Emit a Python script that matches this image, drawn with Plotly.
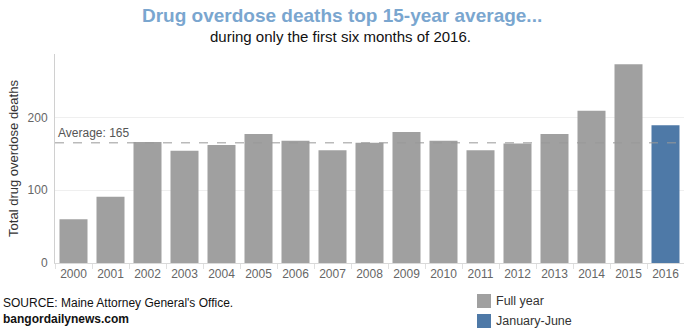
import plotly.graph_objects as go

years = [str(y) for y in range(2000, 2017)]
full_year_years = years[:-1]
full_year_deaths = [60, 91, 166, 154, 162, 177, 168, 155, 165, 180, 168, 155, 164, 177, 209, 273]
partial_years = ["2016"]
partial_deaths = [189]
AVERAGE = 165
legend_labels = ["Full year", "January-June"]

FONT = "Arial, Liberation Sans, sans-serif"
GRAY = "#a0a0a0"
BLUE = "#4e79a7"

W, H = 684, 334
ML, MR, MT, MB = 55, 0, 54, 71
H_PLOT = H - MT - MB
W_PLOT = W - ML - MR


def py(pix):
    return (H - MB - pix) / H_PLOT


def px(pix):
    return (pix - ML) / W_PLOT


fig = go.Figure()
fig.add_trace(go.Bar(x=full_year_years, y=full_year_deaths, name=legend_labels[0],
                     marker=dict(color=GRAY, line=dict(width=0))))
fig.add_trace(go.Bar(x=partial_years, y=partial_deaths, name=legend_labels[1],
                     marker=dict(color=BLUE, line=dict(width=0))))

fig.add_hline(y=AVERAGE, line=dict(color="#999999", width=1, dash="dash"))
fig.add_annotation(x=0, xref="paper", y=AVERAGE, yref="y", text="Average: %d" % AVERAGE,
                   showarrow=False, xanchor="left", yanchor="bottom", xshift=1, yshift=1,
                   font=dict(family=FONT, size=12, color="#555555"))

fig.add_annotation(xref="paper", yref="paper", x=px(342), y=py(15), xanchor="center", yanchor="middle",
                   text="<b>Drug overdose deaths top 15-year average...</b>",
                   showarrow=False, font=dict(family=FONT, size=19, color="#7aa6cf"))
fig.add_annotation(xref="paper", yref="paper", x=px(340), y=py(37), xanchor="center", yanchor="middle",
                   text="during only the first six months of 2016.",
                   showarrow=False, font=dict(family=FONT, size=15, color="#111111"))
fig.add_annotation(xref="paper", yref="paper", x=px(1), y=py(303), xanchor="left", yanchor="middle",
                   text="SOURCE: Maine Attorney General's Office.",
                   showarrow=False, font=dict(family=FONT, size=12, color="#111111"))
fig.add_annotation(xref="paper", yref="paper", x=px(1), y=py(319), xanchor="left", yanchor="middle",
                   text="<b>bangordailynews.com</b>",
                   showarrow=False, font=dict(family=FONT, size=12, color="#111111"))

# legend drawn as swatches + labels
for i, (lab, col) in enumerate(zip(legend_labels, [GRAY, BLUE])):
    cy = 301 + 20 * i
    fig.add_shape(type="rect", xref="paper", yref="paper",
                  x0=px(477), x1=px(491), y0=py(cy + 7), y1=py(cy - 7),
                  fillcolor=col, line=dict(width=0))
    fig.add_annotation(xref="paper", yref="paper", x=px(494), y=py(cy), xanchor="left", yanchor="middle",
                       text=lab, showarrow=False, font=dict(family=FONT, size=12.5, color="#333333"))

fig.update_layout(
    width=W, height=H,
    margin=dict(l=ML, r=MR, t=MT, b=MB, autoexpand=False),
    paper_bgcolor="white", plot_bgcolor="white",
    bargap=0.243, barmode="overlay",
    font=dict(family=FONT, size=12, color="#666666"),
    showlegend=False,
    xaxis=dict(categoryorder="array", categoryarray=years, showgrid=False,
               showline=True, linecolor="#d9d9d9", linewidth=1,
               ticks="outside", tickson="boundaries", ticklen=5, tickcolor="#e0e0e0",
               tickfont=dict(family=FONT, size=12, color="#666666"), fixedrange=True),
    yaxis=dict(range=[0, 287], tickvals=[0, 100, 200], showgrid=True, gridcolor="#efefef",
               zeroline=False, showline=True, linecolor="#d0d0d0", linewidth=1,
               ticks="outside", ticklen=4, tickcolor="rgba(0,0,0,0)",
               tickfont=dict(family=FONT, size=12, color="#666666"),
               title=dict(text="Total drug overdose deaths", standoff=6,
                          font=dict(family=FONT, size=13, color="#333333"))),
)

fig.write_html("out.html")
